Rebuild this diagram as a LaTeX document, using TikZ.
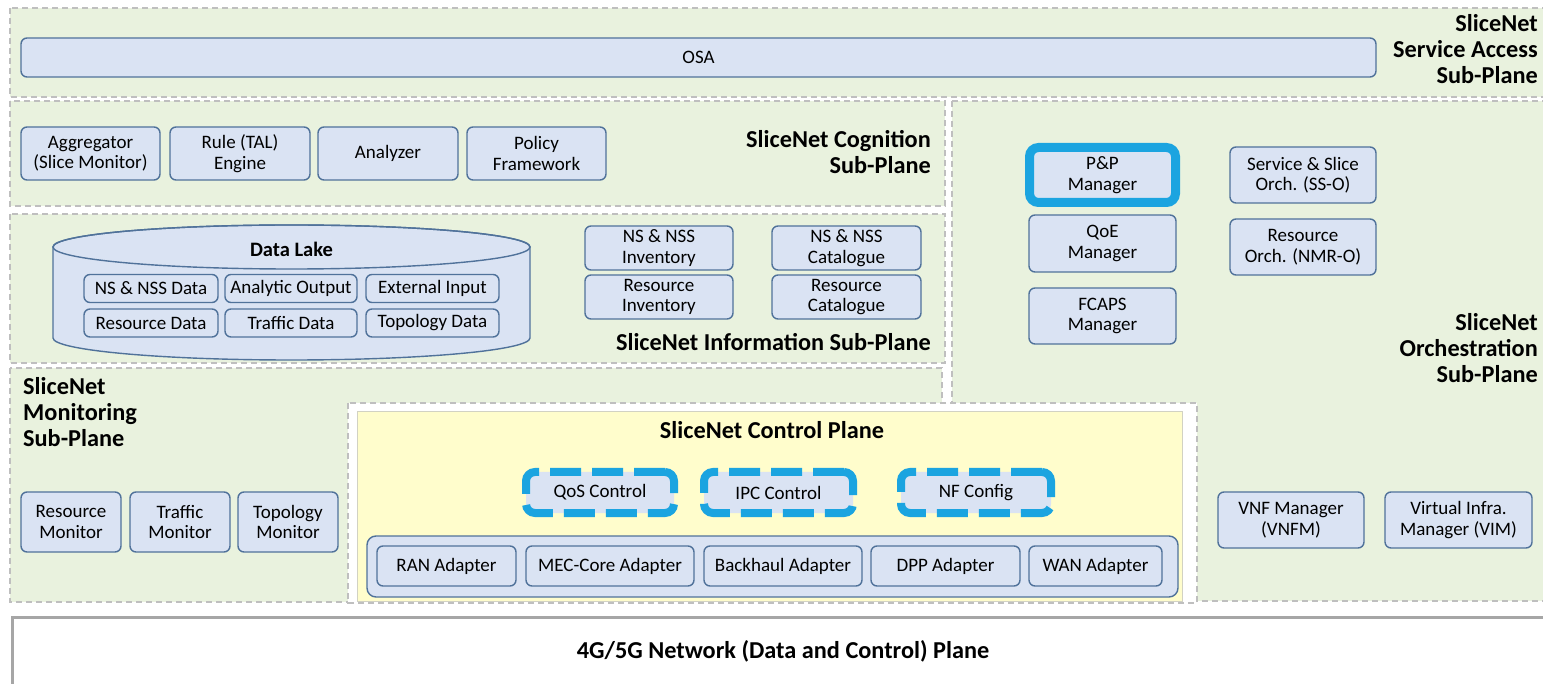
\documentclass[tikz,border=0pt]{standalone}
\usepackage{fontspec}
\setmainfont{Carlito}
\definecolor{regfill}{HTML}{E9F2DE}
\definecolor{regline}{HTML}{BFBFBF}
\definecolor{boxfill}{HTML}{DAE3F3}
\definecolor{boxline}{HTML}{50729A}
\definecolor{cyanline}{HTML}{1BA4E0}
\definecolor{yellowfill}{HTML}{FFFDCC}
\definecolor{netline}{HTML}{A6A6A6}
\begin{document}
\begin{tikzpicture}[x=1pt,y=-1pt,
  region/.style={fill=regfill,draw=regline,line width=1.2pt,dash pattern=on 6pt off 4pt},
  blk/.style={draw=boxline,fill=boxfill,line width=1.4pt,rounded corners=6pt,inner sep=0pt,align=center,
    font=\fontsize{19}{20.5}\selectfont},
  ctrl/.style={draw=cyanline,fill=boxfill,line width=8pt,rounded corners=9pt,dash pattern=on 31pt off 11pt,
    inner sep=0pt,align=center,font=\fontsize{19}{20.5}\selectfont},
  hdr/.style={inner sep=0pt,font=\bfseries\fontsize{24.3}{26.3}\selectfont},
]
\useasboundingbox (0,0) rectangle (1543,684);
\fill[white] (0,0) rectangle (1543,684);

% regions
\draw[region] (10,8) rectangle (1550,97);
\draw[region] (10,101) rectangle (945,206);
\draw[region] (10,214) rectangle (945,363);
\draw[region] (952,101) rectangle (1550,601);
\draw[region] (10,368) rectangle (942,602);
\draw[fill=white,draw=regline,line width=1.2pt,dash pattern=on 6pt off 4pt] (348,403) rectangle (1197,603);
\draw[fill=yellowfill,draw=regline!70!yellowfill,line width=1pt] (357,412) rectangle (1182,601);
\draw[draw=netline,line width=3pt,fill=white] (12,617) rectangle (1560,700);

% titles (base = last line)
\node[hdr,anchor=base east,align=right] (tsa) at (1538,84) {SliceNet\\Service Access\\Sub-Plane};
\node[hdr,anchor=base east,align=right] (tcog) at (931,174) {SliceNet Cognition\\Sub-Plane};
\node[hdr,anchor=base east] (tinf) at (931,351) {SliceNet Information Sub-Plane};
\node[hdr,anchor=base east,align=right] (torch) at (1538,383) {SliceNet\\Orchestration\\Sub-Plane};
\node[hdr,anchor=base west,align=left] (tmon) at (23,447) {SliceNet\\Monitoring\\Sub-Plane};
\node[hdr,anchor=base] (tctl) at (772,439) {SliceNet Control Plane};
\node[hdr,anchor=base] (tnet) at (783,658) {4G/5G Network (Data and Control) Plane};

% service access
\node[blk,minimum width=1355,minimum height=39] (osa) at (698.5,57.5) {OSA};

% cognition
\node[blk,minimum width=139,minimum height=53] (agg) at (90.5,153.5) {Aggregator\\(Slice Monitor)};
\node[blk,minimum width=140,minimum height=53] (rule) at (240,153.5) {Rule (TAL)\\Engine};
\node[blk,minimum width=140,minimum height=53] (ana) at (388,153.5) {Analyzer};
\node[blk,minimum width=139,minimum height=53] (pol) at (536.5,153.5) {Policy\\Framework};

% data lake
\path[fill=boxfill,draw=boxline,line width=1.4pt] (53,247) -- (53,338)
  arc[start angle=180,end angle=360,x radius=238.5pt,y radius=22pt] -- (530,247)
  arc[start angle=0,end angle=180,x radius=238.5pt,y radius=22pt] -- cycle;
\draw[boxline,line width=1.4pt] (291.5,247) ellipse[x radius=238.5pt,y radius=22pt];
\node[inner sep=0pt,anchor=base,font=\bfseries\fontsize{20.5}{24}\selectfont] (dl) at (291.5,257) {Data Lake};
\node[blk,minimum width=134,minimum height=28] (nsd) at (151,288.5) {NS \& NSS Data};
\node[blk,minimum width=132,minimum height=28] (aod) at (291,288.5) {Analytic Output};
\node[blk,minimum width=133,minimum height=28] (exd) at (432.5,288.5) {External Input};
\node[blk,minimum width=134,minimum height=28] (rsd) at (151,323) {Resource Data};
\node[blk,minimum width=132,minimum height=28] (trd) at (291,323) {Traffic Data};
\node[blk,minimum width=133,minimum height=28] (tpd) at (432.5,323) {Topology Data};

% inventories
\node[blk,minimum width=148,minimum height=44] (nsinv) at (659,248) {NS \& NSS\\Inventory};
\node[blk,minimum width=148,minimum height=44] (resinv) at (659,297) {Resource\\Inventory};
\node[blk,minimum width=149,minimum height=44] (nscat) at (846.5,248) {NS \& NSS\\Catalogue};
\node[blk,minimum width=149,minimum height=44] (rescat) at (846.5,297) {Resource\\Catalogue};

% orchestration
\node[blk,draw=cyanline,line width=9pt,rounded corners=9pt,minimum width=146,minimum height=55] (pp) at (1102.5,175) {P\&P\\Manager};
\node[blk,minimum width=146,minimum height=56] (sso) at (1303,175) {Service \& Slice\\Orch. (SS-O)};
\node[blk,minimum width=147,minimum height=57] (qoe) at (1102.5,243.5) {QoE\\Manager};
\node[blk,minimum width=146,minimum height=56] (nmro) at (1303,247) {Resource\\Orch. (NMR-O)};
\node[blk,minimum width=147,minimum height=56] (fcaps) at (1102.5,316) {FCAPS\\Manager};
\node[blk,minimum width=146,minimum height=56] (vnfm) at (1291,520) {VNF Manager\\(VNFM)};
\node[blk,minimum width=147,minimum height=56] (vim) at (1458.5,520) {Virtual Infra.\\Manager (VIM)};

% monitoring
\node[blk,minimum width=100,minimum height=60] (rmon) at (71,522) {Resource\\Monitor};
\node[blk,minimum width=100,minimum height=60] (tmonb) at (180,522) {Traffic\\Monitor};
\node[blk,minimum width=100,minimum height=60] (pmon) at (288,522) {Topology\\Monitor};

% control plane
\node[ctrl,minimum width=148,minimum height=41] (qos) at (600,492.5) {QoS Control};
\node[ctrl,minimum width=149,minimum height=41] (ipc) at (778.5,492.5) {IPC Control};
\node[ctrl,minimum width=150,minimum height=41] (nfc) at (976,492.5) {NF Config};
\node[blk,rounded corners=9pt,minimum width=811,minimum height=61] (adp) at (772.5,566.5) {};
\node[blk,minimum width=139,minimum height=40] (ran) at (446.5,566) {RAN Adapter};
\node[blk,minimum width=168,minimum height=40] (mec) at (610,566) {MEC-Core Adapter};
\node[blk,minimum width=158,minimum height=40] (bh) at (783,566) {Backhaul Adapter};
\node[blk,minimum width=149,minimum height=40] (dpp) at (945.5,566) {DPP Adapter};
\node[blk,minimum width=133,minimum height=40] (wan) at (1095.5,566) {WAN Adapter};
\end{tikzpicture}
\end{document}
